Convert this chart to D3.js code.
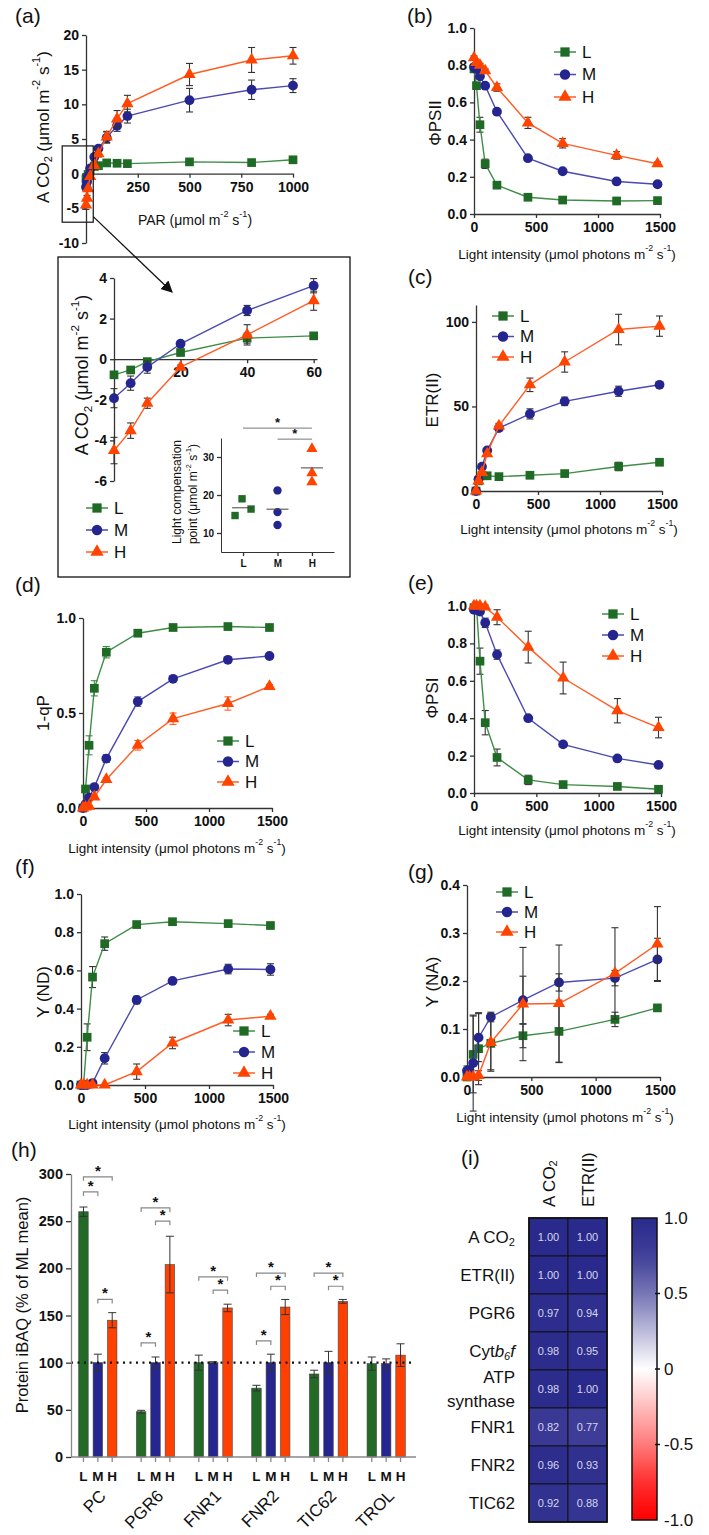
<!DOCTYPE html>
<html><head><meta charset="utf-8">
<script src="https://cdn.jsdelivr.net/npm/d3@7"></script>
<style>
html,body{margin:0;padding:0;background:#fff;}
svg{display:block;}
</style></head><body>
<svg id="fig" width="709" height="1535"></svg>
<script>
// ---------------- DATA ----------------
const keys = ["L","M","H"];
const parX = [0,5,10,20,40,60,100,150,200,500,800,1000];
const aL = [-0.77,-0.53,-0.12,0.33,1.04,1.15,1.55,1.5,1.45,1.7,1.6,2.0];
const aM = [-1.92,-1.18,-0.39,0.76,2.40,3.62,5.2,6.9,8.3,10.6,12.1,12.7];
const aH = [-4.5,-3.52,-2.17,-0.39,1.2,2.88,5.3,7.9,10.1,14.3,16.4,17.0];
const aLe = [0.1,0.1,0.1,0.1,0.25,0.12,0.2,0.2,0.2,0.3,0.3,0.3];
const aMe = [0.47,0.35,0.3,0.1,0.25,0.35,0.8,0.8,1.0,1.7,1.4,1.0];
const aHe = [0.65,0.38,0.25,0.1,0.5,0.47,0.8,1.2,1.2,1.6,1.8,1.2];
const insetN = 6;
const lcpL = [14.6,19.0,16.3], lcpM = [21.2,15.5,12.1], lcpH = [32.2,25.8,23.4];
const lcpSig = [{a:"L",b:"H",y:37.6},{a:"M",b:"H",y:34.7}];
const zoomBoxX = [-115,35], zoomBoxY = [-7,4];

const lightX = [0,20,48,90,185,435,715,1150,1480];
const bL = [0.78,0.69,0.48,0.27,0.155,0.09,0.075,0.07,0.072];
const bM = [0.79,0.78,0.74,0.69,0.55,0.30,0.23,0.175,0.16];
const bH = [0.84,0.815,0.80,0.77,0.68,0.49,0.38,0.315,0.27];
const bLe = [0.01,0.01,0.04,0.025,0.01,0.01,0.005,0.005,0.005];
const bMe = [0.01,0.01,0.01,0.01,0.01,0.01,0.01,0.01,0.01];
const bHe = [0.01,0.01,0.01,0.01,0.02,0.03,0.025,0.02,0.01];

const cL = [0,6,9,9,8.5,9.3,10.3,14.5,17];
const cM = [0,7,14.4,24,37.2,45.6,53,59,62.8];
const cH = [0,6,11,22,38.5,62.8,76.3,95.5,97.5];
const cLe = [0,0.5,0.5,0.5,0.5,1,1,2.5,1];
const cMe = [0,0.5,0.5,1,1,3,2.5,3,1.5];
const cHe = [0,0.5,0.5,1,1.5,4,6,9,6];

const dL = [0,0.1,0.33,0.63,0.82,0.92,0.95,0.955,0.95];
const dM = [0,0.02,0.055,0.11,0.26,0.56,0.68,0.78,0.80];
const dH = [0,0.005,0.01,0.058,0.15,0.33,0.47,0.55,0.64];
const dLe = [0,0.01,0.05,0.04,0.03,0.01,0.01,0.01,0.01];
const dMe = [0,0.005,0.01,0.01,0.02,0.025,0.01,0.01,0.01];
const dHe = [0,0.005,0.005,0.01,0.01,0.025,0.03,0.035,0.01];

const eL = [0.99,1.0,0.705,0.376,0.19,0.07,0.045,0.035,0.02];
const eM = [0.98,0.98,0.97,0.91,0.74,0.40,0.26,0.185,0.15];
const eH = [1.0,1.0,1.0,0.995,0.94,0.78,0.615,0.44,0.35];
const eLe = [0.01,0.01,0.07,0.065,0.045,0.025,0.01,0.01,0.01];
const eMe = [0.01,0.01,0.01,0.025,0.025,0.01,0.01,0.01,0.01];
const eHe = [0.01,0.01,0.01,0.01,0.04,0.085,0.085,0.065,0.055];

const fL = [0,0,0.25,0.565,0.74,0.84,0.855,0.845,0.835];
const fM = [0,0,0,0.01,0.14,0.445,0.545,0.607,0.605];
const fH = [0,0,0,0,0,0.07,0.22,0.34,0.36];
const fLe = [0,0,0.07,0.055,0.035,0.01,0.01,0.01,0.01];
const fMe = [0,0,0,0.01,0.03,0.02,0.01,0.025,0.03];
const fHe = [0,0,0,0,0,0.04,0.03,0.03,0.01];

const gL = [0,0.005,0.047,0.059,0.07,0.086,0.095,0.12,0.144];
const gM = [0.013,0.013,0.029,0.082,0.125,0.16,0.197,0.206,0.245];
const gH = [0,0,0,0.003,0.072,0.152,0.153,0.216,0.277];
const gLe = [0.005,0.005,0.08,0.075,0.055,0.025,0.065,0.015,0.005];
const gMe = [0.01,0.01,0.1,0.05,0.01,0.05,0.018,0.016,0.044];
const gHe = [0,0,0,0.01,0.06,0.118,0.122,0.095,0.078];

const proteins = ["PC","PGR6","FNR1","FNR2","TIC62","TROL"];
const hL = [260,48,100,73,88,99], hLe = [5,1.5,8,3,4,7];
const hM = [100,100,100,100,100,99], hMe = [9,6,1,9,12,5];
const hH = [145,204,158,159,165,108], hHe = [8,30,4,8,2,12];
const hSig = [
 {g:"PC",a:"L",b:"M",y:281},{g:"PC",a:"L",b:"H",y:297},{g:"PC",a:"M",b:"H",y:167},
 {g:"PGR6",a:"L",b:"H",y:264},{g:"PGR6",a:"M",b:"H",y:250},{g:"PGR6",a:"L",b:"M",y:121},
 {g:"FNR1",a:"L",b:"H",y:191},{g:"FNR1",a:"M",b:"H",y:177},
 {g:"FNR2",a:"L",b:"H",y:195},{g:"FNR2",a:"M",b:"H",y:181},{g:"FNR2",a:"L",b:"M",y:123},
 {g:"TIC62",a:"L",b:"H",y:195},{g:"TIC62",a:"M",b:"H",y:181}];
const refLine = 100;

const heatCols = ["A CO2","ETR(II)"];
const heatRows = ["A CO2","ETR(II)","PGR6","Cytb6f","ATP synthase","FNR1","FNR2","TIC62"];
const corrACO2 = [1.00,1.00,0.97,0.98,0.98,0.82,0.96,0.92];
const corrETR  = [1.00,1.00,0.94,0.95,1.00,0.77,0.93,0.88];
const cbarTicks = [1.0,0.5,0,-0.5,-1.0];

// ---------------- STYLE ----------------
const svg = d3.select("#fig");
const FONT = '"Liberation Sans", Arial, Helvetica, sans-serif';
svg.attr("font-family", FONT);
const C = {L:"#1f6b25", M:"#25258f", H:"#ff4400"};
const LC = {L:"#3f8c47", M:"#4a4ab2", H:"#ff5c24"};
const SYM = {L:d3.symbolSquare, M:d3.symbolCircle, H:d3.symbolTriangle};
const SZ = {L:76, M:76, H:66};
const numFmt = d => String(d);
const f1 = d => d.toFixed(1);

function styleAxis(ax, fs){
  ax.attr("font-family",FONT).attr("font-size",fs).attr("font-weight","bold");
  ax.selectAll("path,line").attr("stroke","#333").attr("stroke-width",1.3);
  ax.selectAll("text").attr("fill","#111");
}
function rich(sel, parts, fs){
  let shift = 0;
  parts.forEach(p=>{
    const ts = sel.append("tspan").text(p.t);
    const target = p.sup ? -0.42*fs : p.sub ? 0.28*fs : 0;
    if (target !== shift){ ts.attr("dy", target-shift); shift = target; }
    if (p.sup || p.sub) ts.attr("font-size", fs*0.65);
    if (p.it) ts.attr("font-style","italic");
  });
  return sel;
}
function label(x,y,parts,fs,rot){
  const t = svg.append("text").attr("font-size",fs).attr("fill","#111")
    .attr("text-anchor","middle").attr("dominant-baseline","central")
    .attr("transform",`translate(${x},${y})` + (rot?` rotate(${rot})`:""));
  return rich(t, parts, fs);
}
function panelLabel(x,y,t){
  svg.append("text").attr("x",x).attr("y",y).attr("font-size",21).attr("fill","#111").text(t);
}
const unitsLight = [{t:"Light intensity (μmol photons m"},{t:"-2",sup:1},{t:" s"},{t:"-1",sup:1},{t:")"}];
const unitsACO2 = [{t:"A CO"},{t:"2",sub:1},{t:" (μmol m"},{t:"-2",sup:1},{t:" s"},{t:"-1",sup:1},{t:")"}];

function linePanel(o){
  const x = d3.scaleLinear().domain(o.xDomain).range(o.xRange);
  const y = d3.scaleLinear().domain(o.yDomain).range(o.yRange);
  const g = svg.append("g");
  const xAxisY = y(o.xAxisAt !== undefined ? o.xAxisAt : o.yDomain[0]);
  g.append("g").attr("transform",`translate(0,${xAxisY})`)
    .call(d3.axisBottom(x).tickValues(o.xTicks).tickSize(4).tickSizeOuter(0).tickPadding(o.xPad||4).tickFormat(numFmt))
    .call(a=>styleAxis(a,o.tickFs||14));
  g.append("g").attr("transform",`translate(${x(0)},0)`)
    .call(d3.axisLeft(y).tickValues(o.yTicks).tickSize(4).tickSizeOuter(0).tickFormat(o.yFmt||numFmt))
    .call(a=>styleAxis(a,o.tickFs||14));
  const n = o.n || o.xs.length;
  o.series.forEach(s=>{
    const pts = s.vals.slice(0,n).map((v,i)=>({x:o.xs[i],v,e:s.errs[i]}));
    const eg = g.append("g").attr("stroke", o.errColor ? o.errColor(s.k) : "#333").attr("stroke-width",1.1);
    pts.filter(d=>d.e>0).forEach(d=>{
      const cx = x(d.x), y1 = y(d.v-d.e), y2 = y(d.v+d.e);
      eg.append("line").attr("x1",cx).attr("x2",cx).attr("y1",y1).attr("y2",y2);
      eg.append("line").attr("x1",cx-3.5).attr("x2",cx+3.5).attr("y1",y1).attr("y2",y1);
      eg.append("line").attr("x1",cx-3.5).attr("x2",cx+3.5).attr("y1",y2).attr("y2",y2);
    });
    g.append("path").datum(pts).attr("fill","none").attr("stroke",LC[s.k]).attr("stroke-width",1.4)
      .attr("d", d3.line().x(d=>x(d.x)).y(d=>y(d.v)));
    g.selectAll(null).data(pts).join("path")
      .attr("transform",d=>`translate(${x(d.x)},${y(d.v)})`)
      .attr("d", d3.symbol().type(SYM[s.k]).size(SZ[s.k]))
      .attr("fill",C[s.k]);
  });
  if (o.legend){
    const L = o.legend;
    keys.forEach((k,i)=>{
      const ly = L.y + i*L.gap;
      g.append("line").attr("x1",L.x-11).attr("x2",L.x+11).attr("y1",ly).attr("y2",ly).attr("stroke",LC[k]).attr("stroke-width",1.5);
      g.append("path").attr("transform",`translate(${L.x},${ly})`).attr("d",d3.symbol().type(SYM[k]).size(SZ[k]+10)).attr("fill",C[k]);
      g.append("text").attr("x",L.x+17).attr("y",ly).attr("dominant-baseline","central").attr("font-size",17).attr("fill","#111").text(k);
    });
  }
  return {x,y,g};
}
const ser = (L,M,H,Le,Me,He)=>[{k:"L",vals:L,errs:Le},{k:"M",vals:M,errs:Me},{k:"H",vals:H,errs:He}];

// ---------------- (a) ----------------
panelLabel(15,23,"(a)");
const A = linePanel({xDomain:[0,1000], xRange:[86,293], yDomain:[-10,20], yRange:[243,35], xAxisAt:0,
  xTicks:[250,500,750,1000], yTicks:[-10,-5,0,5,10,15,20], xs:parX,
  series: ser(aL,aM,aH,aLe,aMe,aHe)});
label(43,127,unitsACO2,17,-90);
label(195,220,[{t:"PAR (μmol m"},{t:"-2",sup:1},{t:" s"},{t:"-1",sup:1},{t:")"}],14);
svg.append("rect").attr("x",A.x(zoomBoxX[0])).attr("y",A.y(zoomBoxY[1]))
  .attr("width",A.x(zoomBoxX[1])-A.x(zoomBoxX[0])).attr("height",A.y(zoomBoxY[0])-A.y(zoomBoxY[1]))
  .attr("fill","none").attr("stroke","#111").attr("stroke-width",1.2);
svg.append("rect").attr("x",58).attr("y",257).attr("width",292).attr("height",320)
  .attr("fill","none").attr("stroke","#111").attr("stroke-width",1.3);
svg.append("defs").append("marker").attr("id","arr").attr("viewBox","0 0 10 10").attr("refX",9).attr("refY",5)
  .attr("markerWidth",9).attr("markerHeight",9).attr("orient","auto")
  .append("path").attr("d","M0,0 L10,5 L0,10 z").attr("fill","#111");
svg.append("line").attr("x1",A.x(zoomBoxX[1])).attr("y1",A.y(-6.2)).attr("x2",172).attr("y2",292)
  .attr("stroke","#111").attr("stroke-width",1.3).attr("marker-end","url(#arr)");

// inset
linePanel({xDomain:[0,61], xRange:[114,317], yDomain:[-6,4], yRange:[481,278], xAxisAt:0,
  xTicks:[20,40,60], yTicks:[-6,-4,-2,0,2,4], xs:parX, n:insetN, tickFs:14,
  series: ser(aL,aM,aH,aLe,aMe,aHe), legend:{x:97,y:508,gap:22}});
label(82,375,unitsACO2,18,-90);

// light compensation mini chart
{
  const mx = d3.scalePoint().domain(keys).range([221,334]).padding(0.64);
  const my = d3.scaleLinear().domain([5,35]).range([552,438]);
  const g = svg.append("g");
  g.append("g").attr("transform","translate(0,552)").call(d3.axisBottom(mx).tickSize(4).tickSizeOuter(0).tickPadding(4)).call(a=>styleAxis(a,10));
  g.append("g").attr("transform","translate(221,0)").call(d3.axisLeft(my).tickValues([10,20,30]).tickSize(4).tickSizeOuter(0)).call(a=>styleAxis(a,10));
  g.selectAll(".domain").attr("stroke-width",1);
  const jitter = {L:[-8,-1,8], M:[0,0,0], H:[0,0,0]};
  const vals = {L:lcpL, M:lcpM, H:lcpH};
  keys.forEach(k=>{
    vals[k].forEach((v,i)=>{
      g.append("path").attr("transform",`translate(${mx(k)+jitter[k][i]},${my(v)})`)
        .attr("d",d3.symbol().type(SYM[k]).size(55)).attr("fill",C[k]);
    });
    const m = d3.mean(vals[k]);
    g.append("line").attr("x1",mx(k)-11).attr("x2",mx(k)+11).attr("y1",my(m)).attr("y2",my(m)).attr("stroke","#444").attr("stroke-width",1);
  });
  lcpSig.forEach(s=>{
    g.append("line").attr("x1",mx(s.a)).attr("x2",mx(s.b)).attr("y1",my(s.y)).attr("y2",my(s.y)).attr("stroke","#777").attr("stroke-width",1);
    g.append("text").attr("x",(mx(s.a)+mx(s.b))/2).attr("y",my(s.y)-1).attr("text-anchor","middle").attr("font-size",13).attr("font-weight","bold").attr("fill","#111").text("*");
  });
  label(177,492,[{t:"Light compensation"}],12,-90);
  label(193,494,[{t:"point (μmol m"},{t:"-2",sup:1},{t:" s"},{t:"-1",sup:1},{t:")"}],12,-90);
}

// ---------------- (b) ----------------
panelLabel(407,23,"(b)");
linePanel({xDomain:[0,1500], xRange:[474,660], yDomain:[0,1], yRange:[214,28],
  xTicks:[0,500,1000,1500], yTicks:[0,0.2,0.4,0.6,0.8,1.0], yFmt:f1, xs:lightX,
  series: ser(bL,bM,bH,bLe,bMe,bHe), legend:{x:565,y:52,gap:22.5}});
label(435,123,[{t:"ΦPSII"}],17,-90);
label(567,254,unitsLight,13.5);

// ---------------- (c) ----------------
panelLabel(408,284,"(c)");
linePanel({xDomain:[0,1500], xRange:[476,662], yDomain:[0,110], yRange:[491,305],
  xTicks:[0,500,1000,1500], yTicks:[0,50,100], xs:lightX,
  series: ser(cL,cM,cH,cLe,cMe,cHe), legend:{x:503,y:316,gap:20.5}});
label(432,400,[{t:"ETR(II)"}],17,-90);
label(569,529,unitsLight,13.5);

// ---------------- (d) ----------------
panelLabel(15,592,"(d)");
linePanel({xDomain:[0,1500], xRange:[83,272], yDomain:[0,1], yRange:[808,618],
  xTicks:[0,500,1000,1500], yTicks:[0,0.5,1.0], yFmt:f1, xs:lightX,
  errColor:k=>LC[k],
  series: ser(dL,dM,dH,dLe,dMe,dHe), legend:{x:228,y:741,gap:20.5}});
label(43,713,[{t:"1-qP"}],17,-90);
label(177,848,unitsLight,13.5);

// ---------------- (e) ----------------
panelLabel(408,590,"(e)");
linePanel({xDomain:[0,1500], xRange:[474,661], yDomain:[0,1], yRange:[793,606],
  xTicks:[0,500,1000,1500], yTicks:[0,0.2,0.4,0.6,0.8,1.0], yFmt:f1, xs:lightX,
  series: ser(eL,eM,eH,eLe,eMe,eHe), legend:{x:613,y:614,gap:21}});
label(432,698,[{t:"ΦPSI"}],17,-90);
label(567,830,unitsLight,13.5);

// ---------------- (f) ----------------
panelLabel(15,874,"(f)");
linePanel({xDomain:[0,1500], xRange:[81,273], yDomain:[0,1], yRange:[1085,894],
  xTicks:[0,500,1000,1500], yTicks:[0,0.2,0.4,0.6,0.8,1.0], yFmt:f1, xs:lightX,
  series: ser(fL,fM,fH,fLe,fMe,fHe), legend:{x:244,y:1031,gap:21}});
label(43,992,[{t:"Y (ND)"}],17,-90);
label(177,1124,unitsLight,13.5);

// ---------------- (g) ----------------
panelLabel(408,879,"(g)");
linePanel({xDomain:[0,1500], xRange:[467,660], yDomain:[0,0.4], yRange:[1077,885],
  xTicks:[0,500,1000,1500], yTicks:[0,0.1,0.2,0.3,0.4], yFmt:f1, xs:lightX,
  series: ser(gL,gM,gH,gLe,gMe,gHe), legend:{x:507,y:892,gap:20}});
label(432,982,[{t:"Y (NA)"}],17,-90);
label(565,1117,unitsLight,13.5);

// ---------------- (h) ----------------
panelLabel(11,1157,"(h)");
{
  const x0 = d3.scaleBand().domain(proteins).range([69,415]);
  const x1 = d3.scaleBand().domain(keys).range([x0.bandwidth()/2-24, x0.bandwidth()/2+24]).padding(0.34);
  const y = d3.scaleLinear().domain([0,300]).range([1457,1174]);
  const g = svg.append("g");
  const vals = {L:hL,M:hM,H:hH}, errs = {L:hLe,M:hMe,H:hHe};
  const BC = {L:"#236a26", M:"#262690", H:"#ff4000"};
  const bars = [];
  proteins.forEach((p,i)=>keys.forEach(k=>bars.push({p,k,v:vals[k][i],e:errs[k][i]})));
  const cx = d => x0(d.p)+x1(d.k)+x1.bandwidth()/2;
  g.selectAll(null).data(bars).join("rect")
    .attr("x",d=>x0(d.p)+x1(d.k)).attr("width",x1.bandwidth())
    .attr("y",d=>y(d.v)).attr("height",d=>y(0)-y(d.v))
    .attr("fill",d=>BC[d.k]).attr("stroke","#444").attr("stroke-width",0.6);
  const eg = g.append("g").attr("stroke","#333").attr("stroke-width",1);
  bars.forEach(d=>{
    const c = cx(d), a = y(d.v-d.e), b = y(d.v+d.e);
    eg.append("line").attr("x1",c).attr("x2",c).attr("y1",a).attr("y2",b);
    eg.append("line").attr("x1",c-4).attr("x2",c+4).attr("y1",a).attr("y2",a);
    eg.append("line").attr("x1",c-4).attr("x2",c+4).attr("y1",b).attr("y2",b);
  });
  g.append("line").attr("x1",71).attr("x2",415).attr("y1",y(refLine)).attr("y2",y(refLine))
    .attr("stroke","#111").attr("stroke-width",2.2).attr("stroke-dasharray","2,4.5");
  g.append("g").attr("transform","translate(71,0)")
    .call(d3.axisLeft(y).tickValues(d3.range(0,301,50)).tickSize(5).tickSizeOuter(0).tickFormat(numFmt))
    .call(a=>styleAxis(a,14.5));
  g.selectAll(".domain").attr("stroke","#888");
  g.append("line").attr("x1",71).attr("x2",416).attr("y1",y(0)).attr("y2",y(0)).attr("stroke","#888").attr("stroke-width",1.3);
  g.selectAll(null).data(bars).join("line").attr("x1",cx).attr("x2",cx).attr("y1",y(0)).attr("y2",y(0)+5).attr("stroke","#888").attr("stroke-width",1.3);
  g.selectAll(null).data(bars).join("text").attr("x",cx).attr("y",y(0)+19).attr("dominant-baseline","central")
    .attr("text-anchor","middle").attr("font-size",13.5).attr("font-weight","bold").attr("fill","#111").text(d=>d.k);
  proteins.forEach(p=>{
    const c = x0(p)+x0.bandwidth()/2;
    g.append("text").attr("transform",`translate(${c+9},${y(0)+40}) rotate(-45)`)
      .attr("text-anchor","end").attr("font-size",17).attr("fill","#111").text(p);
  });
  hSig.forEach(s=>{
    const xa = x0(s.g)+x1(s.a)+x1.bandwidth()/2, xb = x0(s.g)+x1(s.b)+x1.bandwidth()/2, yy = y(s.y);
    g.append("path").attr("d",`M${xa},${yy+4}V${yy}H${xb}V${yy+4}`).attr("fill","none").attr("stroke","#888").attr("stroke-width",1.2);
    g.append("text").attr("x",(xa+xb)/2).attr("y",yy-1).attr("text-anchor","middle").attr("font-size",15).attr("font-weight","bold").attr("fill","#111").text("*");
  });
  label(22,1305,[{t:"Protein iBAQ (% of ML mean)"}],16.5,-90);
}

// ---------------- (i) ----------------
panelLabel(461,1165,"(i)");
{
  const hx = d3.scaleBand().domain(heatCols).range([529,607]);
  const hy = d3.scaleBand().domain(heatRows).range([1218,1522]);
  const col = d3.scaleLinear().domain([-1,-0.75,-0.5,0,0.5,0.75,1])
    .range(["#ff0000","#ff2e2e","#ff7a7a","#ffffff","#7776b6","#3f3f98","#2a2a8c"]);
  const g = svg.append("g");
  const cells = [];
  heatRows.forEach((r,i)=>{
    cells.push({r,c:heatCols[0],v:corrACO2[i]});
    cells.push({r,c:heatCols[1],v:corrETR[i]});
  });
  g.selectAll(null).data(cells).join("rect")
    .attr("x",d=>hx(d.c)).attr("y",d=>hy(d.r)).attr("width",hx.bandwidth()).attr("height",hy.bandwidth())
    .attr("fill",d=>col(d.v)).attr("stroke","#111").attr("stroke-width",0.9);
  g.selectAll(null).data(cells).join("text")
    .attr("x",d=>hx(d.c)+hx.bandwidth()/2).attr("y",d=>hy(d.r)+hy.bandwidth()/2)
    .attr("text-anchor","middle").attr("dominant-baseline","central").attr("font-size",11).attr("fill","#d6d6ea")
    .text(d=>d.v.toFixed(2));
  g.append("rect").attr("x",529).attr("y",1218).attr("width",78).attr("height",304).attr("fill","none").attr("stroke","#111").attr("stroke-width",1.8);
  const rowLab = {
    "A CO2":[[{t:"A CO"},{t:"2",sub:1}]],
    "ETR(II)":[[{t:"ETR(II)"}]],
    "PGR6":[[{t:"PGR6"}]],
    "Cytb6f":[[{t:"Cyt"},{t:"b",it:1},{t:"6",sub:1,it:1},{t:"f",it:1}]],
    "ATP synthase":[[{t:"ATP"}],[{t:"synthase"}]],
    "FNR1":[[{t:"FNR1"}]],"FNR2":[[{t:"FNR2"}]],"TIC62":[[{t:"TIC62"}]]
  };
  heatRows.forEach(r=>{
    const lines = rowLab[r];
    const cyc = hy(r)+hy.bandwidth()/2;
    lines.forEach((parts,j)=>{
      const off = lines.length===1 ? 0 : (j===0 ? -12 : 12);
      const t = g.append("text").attr("x",515).attr("y",cyc+off).attr("text-anchor","end")
        .attr("dominant-baseline","central").attr("font-size",17).attr("fill","#111");
      rich(t, parts, 17);
    });
  });
  const colLab = {"A CO2":[{t:"A CO"},{t:"2",sub:1}], "ETR(II)":[{t:"ETR(II)"}]};
  heatCols.forEach(c=>{
    const t = g.append("text").attr("transform",`translate(${hx(c)+hx.bandwidth()/2},1207) rotate(-90)`)
      .attr("text-anchor","start").attr("dominant-baseline","central").attr("font-size",17).attr("fill","#111");
    rich(t, colLab[c], 17);
  });
  const cy = d3.scaleLinear().domain([-1,1]).range([1520,1218]);
  const grad = svg.select("defs").append("linearGradient").attr("id","cbar").attr("x1",0).attr("x2",0).attr("y1",1).attr("y2",0);
  d3.range(0,1.0001,0.05).forEach(t=>{
    const v = -1+2*t;
    grad.append("stop").attr("offset",t).attr("stop-color",col(v));
  });
  g.append("rect").attr("x",632).attr("y",cy(1)).attr("width",25).attr("height",cy(-1)-cy(1))
    .attr("fill","url(#cbar)").attr("stroke","#111").attr("stroke-width",1.5);
  cbarTicks.forEach(v=>{
    if (Math.abs(v)<1) g.append("line").attr("x1",655).attr("x2",660).attr("y1",cy(v)).attr("y2",cy(v)).attr("stroke","#111").attr("stroke-width",1.5);
    g.append("text").attr("x",664).attr("y",cy(v)).attr("dominant-baseline","central").attr("font-size",17).attr("fill","#111")
      .text(v===0 ? "0" : v.toFixed(1));
  });
}
</script></body></html>
